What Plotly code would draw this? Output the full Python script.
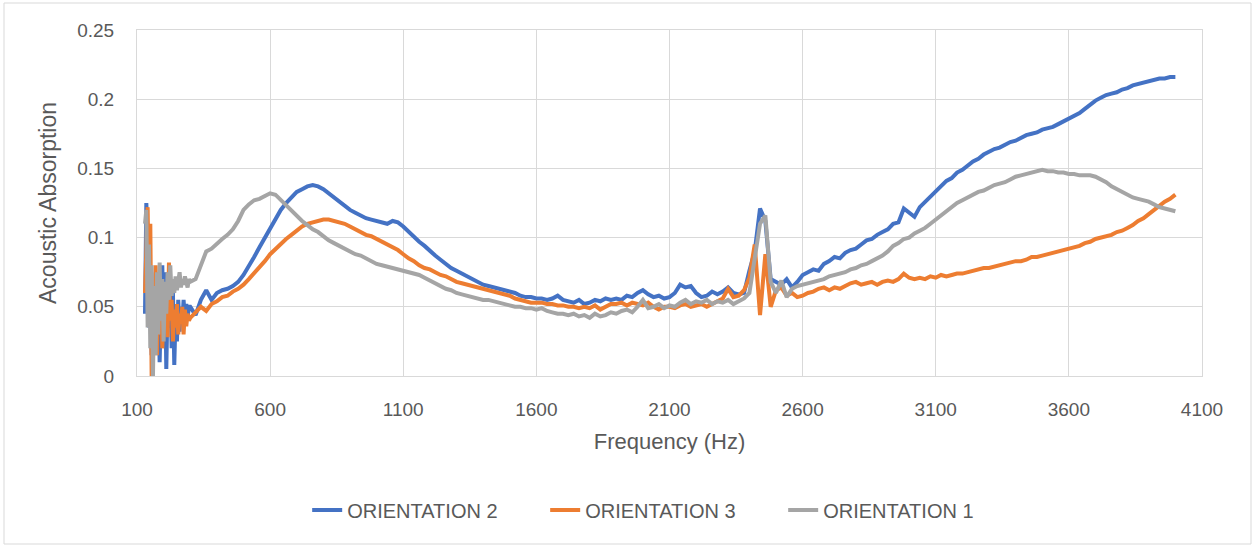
import plotly.graph_objects as go

# ---------------- data ----------------
freq_low = list(range(130, 300, 5))          # 130 .. 295 Hz
freq_main = list(range(300, 4001, 20))       # 300 .. 4000 Hz
frequency = freq_low + freq_main

orientation2_low = [0.045, 0.125, 0.100, 0.035, 0.070, 0.015, 0.060, 0.030, 0.075, 0.020,
                    0.065, 0.010, 0.050, 0.080, 0.030, 0.075, 0.005, 0.055, 0.035, 0.068,
                    0.020, 0.060, 0.008, 0.045, 0.025, 0.055, 0.032, 0.050, 0.038, 0.055,
                    0.040, 0.052, 0.042, 0.050]
orientation2_main = [
    0.050, 0.044, 0.055, 0.062, 0.055, 0.060, 0.062, 0.063, 0.065, 0.068,
    0.073, 0.079, 0.086, 0.093, 0.100, 0.107, 0.114, 0.120, 0.125, 0.129,
    0.133, 0.135, 0.137, 0.138, 0.137, 0.135, 0.132, 0.129, 0.126, 0.123,
    0.120, 0.118, 0.116, 0.114, 0.113, 0.112, 0.111, 0.110, 0.112, 0.111,
    0.108, 0.104, 0.101, 0.097, 0.094, 0.090, 0.087, 0.084, 0.081, 0.078,
    0.076, 0.074, 0.072, 0.070, 0.068, 0.066, 0.065, 0.064, 0.063, 0.062,
    0.061, 0.060, 0.058, 0.057, 0.057, 0.056, 0.056, 0.055, 0.056, 0.058,
    0.055, 0.054, 0.053, 0.055, 0.052, 0.053, 0.055, 0.054, 0.056, 0.055,
    0.056, 0.055, 0.058, 0.057, 0.060, 0.062, 0.059, 0.057, 0.058, 0.056,
    0.057, 0.060, 0.066, 0.064, 0.065, 0.060, 0.057, 0.058, 0.061, 0.059,
    0.061, 0.064, 0.060, 0.059, 0.060, 0.076, 0.090, 0.121, 0.112, 0.070,
    0.068, 0.066, 0.070, 0.064, 0.068, 0.073, 0.075, 0.077, 0.076, 0.081,
    0.083, 0.086, 0.085, 0.089, 0.091, 0.092, 0.095, 0.098, 0.099, 0.102,
    0.104, 0.106, 0.110, 0.111, 0.121, 0.118, 0.115, 0.122, 0.126, 0.130,
    0.134, 0.137, 0.141, 0.143, 0.147, 0.149, 0.152, 0.155, 0.157, 0.160,
    0.162, 0.164, 0.165, 0.167, 0.169, 0.170, 0.172, 0.174, 0.175, 0.176,
    0.178, 0.179, 0.180, 0.182, 0.184, 0.186, 0.188, 0.190, 0.193, 0.196,
    0.199, 0.201, 0.203, 0.204, 0.205, 0.207, 0.208, 0.210, 0.211, 0.212,
    0.213, 0.214, 0.215, 0.215, 0.216, 0.216]

orientation3_low = [0.060, 0.095, 0.122, 0.045, 0.110, 0.000, 0.065, 0.025, 0.080, 0.015,
                    0.058, 0.030, 0.070, 0.020, 0.050, 0.035, 0.062, 0.028, 0.082, 0.040,
                    0.055, 0.025, 0.048, 0.035, 0.052, 0.030, 0.045, 0.038, 0.050, 0.030,
                    0.048, 0.036, 0.045, 0.040]
orientation3_main = [
    0.042, 0.046, 0.050, 0.047, 0.052, 0.054, 0.057, 0.058, 0.061, 0.063,
    0.066, 0.070, 0.074, 0.079, 0.083, 0.088, 0.092, 0.096, 0.099, 0.102,
    0.105, 0.108, 0.110, 0.111, 0.112, 0.113, 0.113, 0.112, 0.111, 0.110,
    0.108, 0.106, 0.104, 0.102, 0.101, 0.099, 0.097, 0.095, 0.093, 0.091,
    0.088, 0.085, 0.083, 0.080, 0.078, 0.077, 0.075, 0.073, 0.072, 0.070,
    0.068, 0.067, 0.066, 0.065, 0.064, 0.063, 0.062, 0.061, 0.060, 0.059,
    0.058, 0.056, 0.055, 0.054, 0.053, 0.053, 0.053, 0.052, 0.052, 0.051,
    0.051, 0.050, 0.050, 0.049, 0.050, 0.049, 0.051, 0.048, 0.050, 0.052,
    0.052, 0.053, 0.051, 0.053, 0.052, 0.051, 0.053, 0.050, 0.048, 0.050,
    0.050, 0.049, 0.051, 0.052, 0.050, 0.051, 0.052, 0.050, 0.052, 0.054,
    0.056, 0.063, 0.057, 0.058, 0.062, 0.071, 0.095, 0.044, 0.088, 0.050,
    0.062, 0.064, 0.058, 0.060, 0.057, 0.058, 0.060, 0.061, 0.063, 0.064,
    0.062, 0.064, 0.063, 0.065, 0.067, 0.068, 0.066, 0.067, 0.068, 0.066,
    0.068, 0.069, 0.068, 0.070, 0.074, 0.071, 0.070, 0.071, 0.070, 0.072,
    0.071, 0.073, 0.072, 0.073, 0.074, 0.074, 0.075, 0.076, 0.077, 0.078,
    0.078, 0.079, 0.080, 0.081, 0.082, 0.083, 0.083, 0.084, 0.086, 0.086,
    0.087, 0.088, 0.089, 0.090, 0.091, 0.092, 0.093, 0.094, 0.096, 0.097,
    0.099, 0.100, 0.101, 0.102, 0.104, 0.105, 0.107, 0.109, 0.112, 0.114,
    0.117, 0.120, 0.123, 0.126, 0.128, 0.131]

orientation1_low = [0.110, 0.120, 0.035, 0.095, 0.020, 0.080, 0.000, 0.065, 0.015, 0.075,
                    0.030, 0.082, 0.040, 0.070, 0.025, 0.068, 0.045, 0.075, 0.055, 0.080,
                    0.058, 0.070, 0.060, 0.072, 0.062, 0.068, 0.075, 0.064, 0.070, 0.066,
                    0.072, 0.068, 0.064, 0.070]
orientation1_main = [
    0.068, 0.070, 0.080, 0.090, 0.092, 0.096, 0.099, 0.102, 0.106, 0.112,
    0.120, 0.124, 0.127, 0.128, 0.130, 0.132, 0.131, 0.127, 0.123, 0.119,
    0.115, 0.112, 0.109, 0.106, 0.104, 0.101, 0.098, 0.096, 0.094, 0.092,
    0.090, 0.088, 0.087, 0.085, 0.083, 0.081, 0.080, 0.079, 0.078, 0.077,
    0.076, 0.075, 0.074, 0.073, 0.071, 0.069, 0.067, 0.065, 0.063, 0.062,
    0.060, 0.059, 0.058, 0.057, 0.056, 0.055, 0.055, 0.054, 0.053, 0.052,
    0.051, 0.050, 0.050, 0.049, 0.049, 0.048, 0.049, 0.047, 0.046, 0.045,
    0.045, 0.044, 0.045, 0.043, 0.044, 0.042, 0.045, 0.043, 0.044, 0.046,
    0.045, 0.047, 0.048, 0.046, 0.050, 0.055, 0.049, 0.050, 0.052, 0.049,
    0.051, 0.050, 0.053, 0.055, 0.052, 0.054, 0.053, 0.055, 0.052, 0.054,
    0.053, 0.055, 0.052, 0.054, 0.056, 0.060, 0.085, 0.110, 0.116, 0.068,
    0.060, 0.069, 0.057, 0.063, 0.065, 0.066, 0.067, 0.068, 0.069, 0.070,
    0.072, 0.073, 0.074, 0.075, 0.077, 0.078, 0.080, 0.081, 0.083, 0.085,
    0.087, 0.090, 0.094, 0.096, 0.099, 0.100, 0.103, 0.105, 0.107, 0.110,
    0.113, 0.116, 0.119, 0.122, 0.125, 0.127, 0.129, 0.131, 0.133, 0.134,
    0.136, 0.138, 0.139, 0.140, 0.142, 0.144, 0.145, 0.146, 0.147, 0.148,
    0.149, 0.148, 0.148, 0.147, 0.147, 0.146, 0.146, 0.145, 0.145, 0.145,
    0.144, 0.142, 0.140, 0.137, 0.135, 0.133, 0.131, 0.129, 0.128, 0.127,
    0.126, 0.124, 0.122, 0.121, 0.120, 0.119]

orientation2 = orientation2_low + orientation2_main
orientation3 = orientation3_low + orientation3_main
orientation1 = orientation1_low + orientation1_main

series_names = ["ORIENTATION 2", "ORIENTATION 3", "ORIENTATION 1"]
series_values = [orientation2, orientation3, orientation1]
series_colors = ["#4472C4", "#ED7D31", "#A5A5A5"]

x_tick_values = [100, 600, 1100, 1600, 2100, 2600, 3100, 3600, 4100]
x_tick_labels = ["100", "600", "1100", "1600", "2100", "2600", "3100", "3600", "4100"]
y_tick_values = [0, 0.05, 0.1, 0.15, 0.2, 0.25]
y_tick_labels = ["0", "0.05", "0.1", "0.15", "0.2", "0.25"]

# ---------------- figure ----------------
FONT = "Liberation Sans"
TXT = "#595959"
GRID = "#D9D9D9"

fig = go.Figure()
for name, vals, col in zip(series_names, series_values, series_colors):
    fig.add_trace(go.Scatter(x=frequency, y=vals, mode="lines", name=name,
                             line=dict(color=col, width=4)))

W, H = 1253, 545
L, R, T, B = 137, 1202, 30, 376
fig.update_layout(
    width=W, height=H,
    margin=dict(l=L, r=W - R, t=T, b=H - B),
    paper_bgcolor="white", plot_bgcolor="white",
    font=dict(family=FONT, color=TXT, size=19),
    showlegend=True,
    legend=dict(orientation="h", x=0.495, xanchor="center",
                y=(B - 510) / (B - T), yanchor="middle",
                font=dict(family=FONT, size=20, color=TXT),
                entrywidth=193, entrywidthmode="pixels",
                traceorder="normal"),
    xaxis=dict(range=[100, 4100], tickvals=x_tick_values, ticktext=x_tick_labels,
               showgrid=True, gridcolor=GRID, gridwidth=1,
               showline=True, linecolor=GRID, linewidth=1, mirror=True,
               zeroline=False, ticks="", ticklabelstandoff=16,
               tickfont=dict(family=FONT, size=19, color=TXT),
               title=dict(text="Frequency (Hz)", standoff=14,
                          font=dict(family=FONT, size=22, color=TXT))),
    yaxis=dict(range=[0, 0.25], tickvals=y_tick_values, ticktext=y_tick_labels,
               showgrid=True, gridcolor=GRID, gridwidth=1,
               showline=True, linecolor=GRID, linewidth=1, mirror=True,
               zeroline=False, ticks="", ticklabelstandoff=18,
               tickfont=dict(family=FONT, size=19, color=TXT),
               title=dict(text="Acoustic Absorption", standoff=14,
                          font=dict(family=FONT, size=23, color=TXT))),
)

# outer chart border
fig.add_shape(type="rect", xref="paper", yref="paper",
              x0=(4 - L) / (R - L), x1=(1251 - L) / (R - L),
              y0=(B - 544) / (B - T), y1=(B - 3) / (B - T),
              line=dict(color="#D9D9D9", width=1), fillcolor="rgba(0,0,0,0)",
              layer="below")

fig.write_html("out.html")
